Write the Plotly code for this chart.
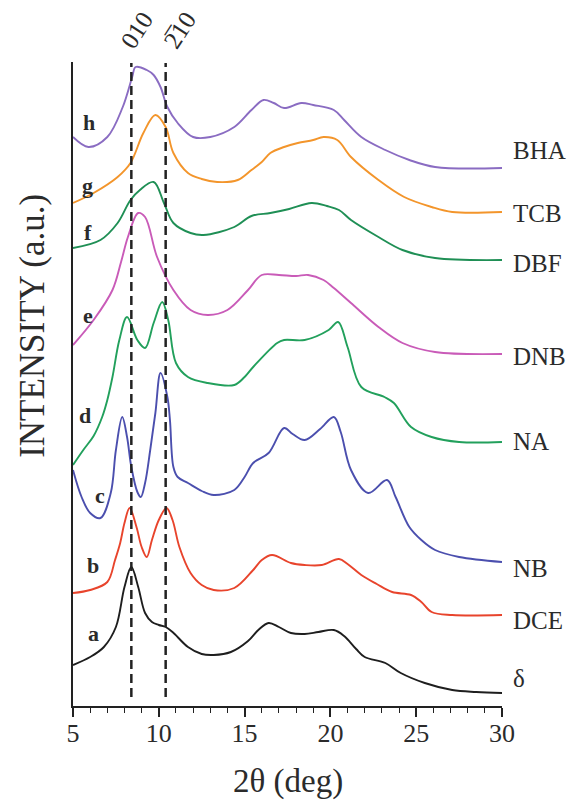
import plotly.graph_objects as go

# XRD patterns (2θ in degrees vs. stacked intensity, arbitrary units)
x_a = [5, 6, 6.8, 7.5, 8.0, 8.4, 8.8, 9.2, 9.6, 10.0, 10.4, 10.8, 11.7, 12.5, 13.2, 14.2, 15.2, 15.8, 16.4, 17.0, 17.7, 18.5, 19.3, 20.2, 20.8, 21.5, 22.0, 23.2, 24.1, 25.5, 27.1, 28.5, 30]
y_a = [47, 55, 65, 85, 125, 145, 125, 99, 90, 87, 85, 80, 65, 58, 57, 60, 71, 82, 89, 85, 79, 78, 80, 82, 76, 63, 55, 49, 39, 29, 22, 20, 19]

x_b = [5, 6, 7.0, 7.45, 7.75, 8.0, 8.3, 8.7, 9.0, 9.3, 9.6, 10.0, 10.45, 10.8, 11.2, 11.85, 12.5, 13.2, 14.4, 15.5, 16.0, 16.6, 17.7, 18.5, 19.5, 20.5, 21.0, 21.8, 22.7, 23.6, 24.7, 25.3, 25.9, 27.1, 30]
y_b = [119, 122, 130, 152, 169, 189, 204, 185, 165, 155, 172, 192, 204, 192, 165, 139, 127, 122, 124, 142, 152, 157, 149, 147, 147, 153, 148, 137, 128, 120, 117, 110, 100, 97, 97]

x_c = [5, 5.5, 6.0, 6.6, 7.2, 7.5, 7.87, 8.15, 8.4, 8.75, 8.95, 9.2, 9.5, 9.8, 10.1, 10.5, 10.65, 10.85, 11.1, 11.7, 12.5, 13.2, 14.4, 15.0, 15.5, 16.4, 17.3, 17.8, 18.5, 19.4, 20.2, 20.6, 21.2, 22.2, 23.3, 23.8, 24.6, 25.3, 26.1, 27.5, 30]
y_c = [242, 215, 199, 194, 219, 262, 295, 275, 245, 220, 215, 229, 262, 299, 339, 315, 292, 245, 235, 229, 221, 217, 222, 235, 249, 259, 284, 278, 272, 283, 295, 280, 242, 219, 232, 215, 185, 172, 162, 155, 150]

x_d = [5, 5.6, 6.2, 6.7, 7.0, 7.3, 7.7, 8.15, 8.75, 9.2, 9.7, 10.2, 10.55, 11.0, 11.7, 12.85, 14.4, 15.0, 15.5, 16.9, 17.3, 18.5, 19.9, 20.45, 21.0, 21.8, 23.15, 23.7, 24.7, 25.9, 27.5, 30]
y_d = [247, 262, 276, 295, 312, 335, 372, 395, 372, 364, 389, 410, 392, 349, 335, 329, 327, 335, 345, 369, 372, 372, 382, 390, 365, 325, 315, 309, 285, 275, 270, 270]

x_e = [5, 6.2, 7.3, 7.8, 8.2, 8.8, 9.2, 9.9, 10.85, 11.85, 12.85, 14.0, 15.2, 16.0, 17.0, 18.0, 18.7, 19.6, 20.2, 21.2, 22.8, 24.2, 26.1, 30]
y_e = [367, 392, 422, 450, 475, 499, 495, 455, 422, 402, 397, 402, 422, 437, 437, 436, 437, 432, 424, 409, 385, 369, 360, 358]

x_f = [5, 6.6, 7.6, 8.35, 8.9, 9.7, 10.3, 10.85, 11.85, 12.6, 14.4, 15.4, 16.5, 17.6, 18.9, 19.8, 20.5, 21.2, 22.8, 24.2, 26.1, 30]
y_f = [464, 472, 489, 512, 522, 530, 509, 489, 479, 477, 485, 496, 499, 503, 509, 506, 502, 492, 475, 462, 454, 452]

x_g = [5, 6.2, 7.6, 8.35, 9.1, 9.8, 10.4, 10.85, 11.7, 12.5, 13.4, 14.6, 15.4, 16.0, 16.5, 17.3, 18.1, 19.0, 19.6, 20.4, 21.2, 22.8, 24.3, 25.9, 27.1, 30]
y_g = [509, 519, 535, 549, 579, 597, 585, 559, 539, 533, 530, 532, 542, 550, 559, 565, 569, 572, 575, 572, 555, 532, 515, 505, 500, 500]

x_h = [5, 5.9, 7.0, 7.9, 8.45, 8.65, 9.3, 9.7, 10.1, 10.5, 11.1, 12.0, 13.0, 14.4, 15.4, 16.1, 16.7, 17.3, 18.3, 19.0, 20.2, 20.8, 21.8, 23.2, 24.6, 26.1, 30]
y_h = [575, 565, 575, 605, 635, 645, 642, 637, 625, 605, 589, 575, 575, 585, 602, 612, 609, 604, 609, 607, 602, 592, 575, 562, 552, 545, 544]

letters = ["a", "b", "c", "d", "e", "f", "g", "h"]
solvents = ["δ", "DCE", "NB", "NA", "DNB", "DBF", "TCB", "BHA"]
colors = ["#1e1e1e", "#e8442c", "#4b4fae", "#22a05c", "#c95bb8", "#1f8f55", "#f3952b", "#8a6cc2"]

# label anchors
letter_x = [6.17, 6.17, 6.57, 5.70, 5.87, 5.87, 5.82, 5.94]
letter_y = [79, 147, 217, 297, 397, 480, 527, 590]
solvent_y = [34, 92, 144, 271, 356, 449, 499, 562]

# reflection positions
refl_pos = [8.4, 10.4]
refl_text = ["010", "2\u030510"]
refl_lab_x = [8.75, 11.25]

xs = [x_a, x_b, x_c, x_d, x_e, x_f, x_g, x_h]
ys = [y_a, y_b, y_c, y_d, y_e, y_f, y_g, y_h]

FONT = "Liberation Serif, Times New Roman, serif"
TXT = "#2b2b2b"

fig = go.Figure()
for x, y, c, name in zip(xs, ys, colors, solvents):
    fig.add_trace(go.Scatter(x=x, y=y, mode="lines", name=name,
                             line=dict(color=c, width=1.9, shape="spline", smoothing=1.0)))

for xv in refl_pos:
    fig.add_shape(type="line", x0=xv, x1=xv, y0=15, y1=649, xref="x", yref="y",
                  line=dict(color="#222222", width=2.5, dash="9px,5px"))

ann = []
for t, lx, ly in zip(letters, letter_x, letter_y):
    ann.append(dict(x=lx, y=ly, xref="x", yref="y", text=f"<b>{t}</b>", showarrow=False,
                    xanchor="center", yanchor="middle",
                    font=dict(family=FONT, size=22, color=TXT)))
for t, ly in zip(solvents, solvent_y):
    ann.append(dict(x=1.021, y=ly, xref="paper", yref="y", text=t, showarrow=False,
                    xanchor="left", yanchor="middle", font=dict(family=FONT, size=25, color=TXT)))
for t, lx in zip(refl_text, refl_lab_x):
    ann.append(dict(x=lx, y=1.05, xref="x", yref="paper", text=t, showarrow=False,
                    xanchor="center", yanchor="middle",
                    textangle=-57, font=dict(family=FONT, size=25, color=TXT)))
ann.append(dict(x=-0.096, y=0.59, xref="paper", yref="paper", text="INTENSITY (a.u.)",
                showarrow=False, textangle=-90, xanchor="center", yanchor="middle",
                font=dict(family=FONT, size=35, color=TXT)))
ann.append(dict(x=0.5, y=-0.118, xref="paper", yref="paper", text="2θ (deg)",
                showarrow=False, xanchor="center", yanchor="middle",
                font=dict(family=FONT, size=33, color=TXT)))

fig.update_layout(
    width=574, height=808,
    margin=dict(l=73, r=72, t=62, b=102),
    paper_bgcolor="white", plot_bgcolor="white",
    showlegend=False,
    annotations=ann,
    xaxis=dict(range=[5, 30], showgrid=False, zeroline=False, showline=True,
               linecolor="#222222", linewidth=1.5, ticks="outside", ticklen=9,
               tickwidth=1.5, tickcolor="#222222", tickvals=[5, 10, 15, 20, 25, 30],
               ticklabelstandoff=-6,
               tickfont=dict(family=FONT, size=26, color=TXT),
               minor=dict(dtick=1, ticks="outside", ticklen=5, tickwidth=1.2, tickcolor="#222222")),
    yaxis=dict(range=[6, 650], showgrid=False, zeroline=False, showline=True,
               linecolor="#222222", linewidth=1.5, showticklabels=False, ticks=""),
)

fig.write_html("out.html")
